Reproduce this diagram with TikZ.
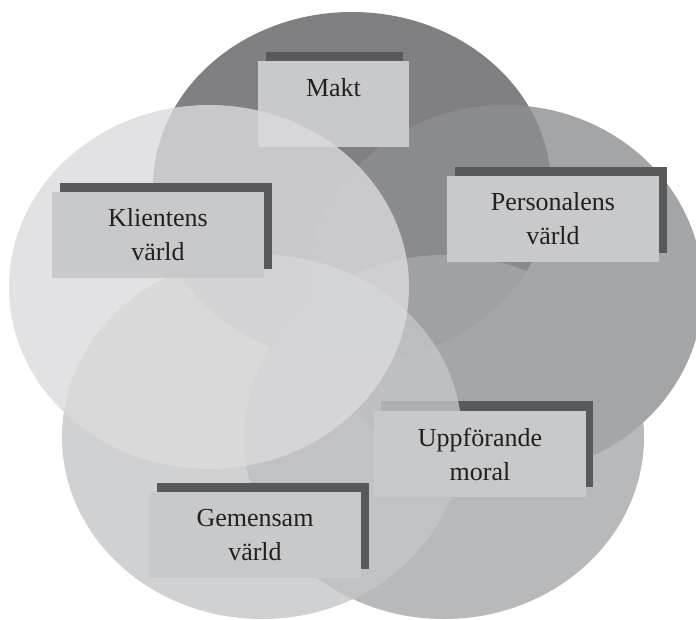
\documentclass[tikz,border=0pt]{standalone}
\usepackage{fontspec}
\setmainfont{Liberation Serif}
\usetikzlibrary{shadows}
\definecolor{maktgray}{RGB}{96,96,99}
\definecolor{persgray}{RGB}{141,142,145}
\definecolor{uppfgray}{RGB}{166,167,170}
\definecolor{gemgray}{RGB}{196,197,200}
\definecolor{kligray}{RGB}{219,219,221}
\definecolor{tagfill}{RGB}{200,201,203}
\definecolor{tagshade}{RGB}{88,89,91}
\definecolor{tagtext}{RGB}{35,31,32}
\tikzset{disc/.style={fill opacity=.8}}
\tikzset{tagbase/.style={fill=tagfill,text=tagtext,align=center,inner sep=0pt,
    minimum width=212pt,minimum height=86pt,font=\fontsize{26}{34}\selectfont}}
\tikzset{tag/.style={tagbase,general shadow={fill=tagshade,shadow xshift=8pt,shadow yshift=9pt}}}

\begin{document}
\begin{tikzpicture}[x=1pt,y=-1pt]
  \useasboundingbox (0,0) rectangle (696,620);
  \clip (0,0) rectangle (696,620);
  % the five worlds
  \fill[disc,maktgray] (352,187) ellipse [x radius=199pt,y radius=175pt];
  \fill[disc,persgray] (505,290) ellipse [x radius=198pt,y radius=185pt];
  \fill[disc,uppfgray] (444,437) ellipse [x radius=200pt,y radius=182pt];
  % labels
  \fill[tagshade] (266,52) rectangle (403,140);
  \node[tagbase,minimum width=151pt,text depth=33pt] (makt) at (333.5,104) {Makt};
  \node[tag] (pers) at (553,219) {Personalens\\värld};
  \fill[tagshade] (381,401) rectangle (593,487);
  \fill[disc,gemgray] (262,437) ellipse [x radius=200pt,y radius=182pt];
  \node[tagbase] (uppf) at (480,454) {Uppförande\\moral};
  \node[tag] (gem) at (255,535) {Gemensam\\värld};
  \fill[disc,kligray] (209,287) ellipse [x radius=200pt,y radius=182pt];
  \node[tag] (kli) at (158,235) {Klientens\\värld};
\end{tikzpicture}
\end{document}
